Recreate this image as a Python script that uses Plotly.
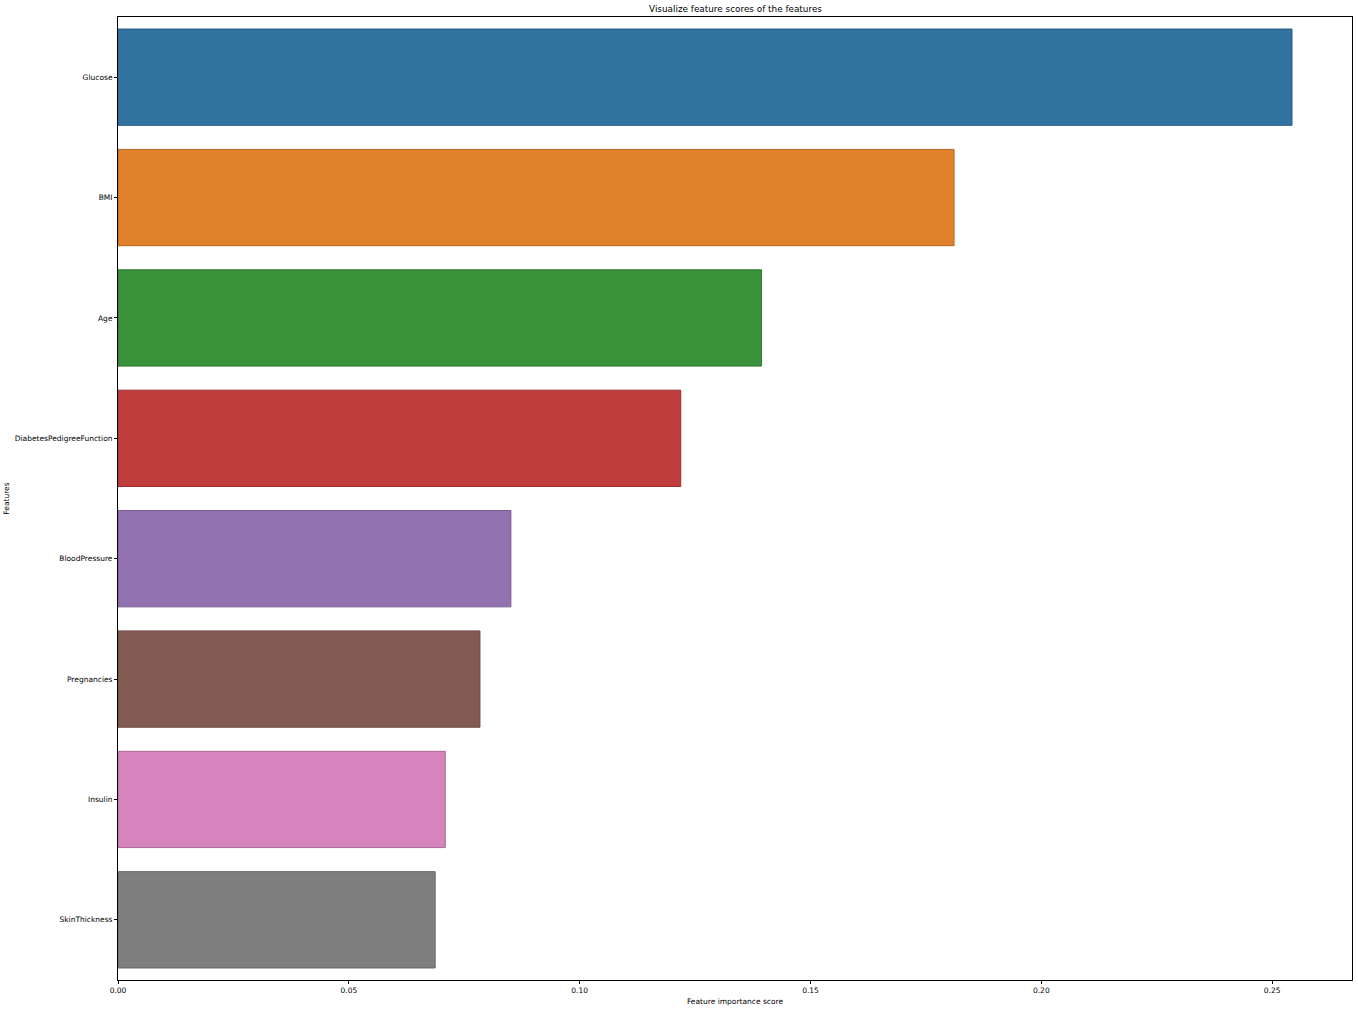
import plotly.graph_objects as go

features = ["Glucose", "BMI", "Age", "DiabetesPedigreeFunction", "BloodPressure",
            "Pregnancies", "Insulin", "SkinThickness"]
scores = [0.2543, 0.1811, 0.1394, 0.1219, 0.0851, 0.0784, 0.0709, 0.0687]
colors = ["#3274a1", "#e1812c", "#3a923a", "#c03d3e", "#9372b2", "#845b53", "#d684bd", "#7f7f7f"]
edge_colors = ["#285d81", "#b46723", "#2e742e", "#993031", "#755b8e", "#694842", "#ab6997", "#666666"]
x_ticks = [0.0, 0.05, 0.10, 0.15, 0.20, 0.25]
x_tick_text = ["0.00", "0.05", "0.10", "0.15", "0.20", "0.25"]

FONT = "DejaVu Sans"

fig = go.Figure()
fig.add_trace(go.Bar(
    x=scores, y=features, orientation="h",
    marker=dict(color=colors, line=dict(color=edge_colors, width=1)),
    width=0.8,
))

fig.update_layout(
    width=1358, height=1009,
    margin=dict(l=117, r=5, t=17, b=28),
    paper_bgcolor="white", plot_bgcolor="white",
    showlegend=False,
    title=dict(text="Visualize feature scores of the features",
               font=dict(family=FONT, size=8.85, color="black"),
               x=735.5 / 1358, xanchor="center", y=1 - 9 / 1009, yanchor="middle"),
    font=dict(family=FONT, size=7.5, color="black"),
)
fig.update_xaxes(
    range=[0, 0.2673], tickvals=x_ticks, ticktext=x_tick_text,
    showgrid=False, zeroline=False,
    showline=True, linecolor="black", linewidth=1, mirror=True,
    ticks="outside", ticklen=3, tickcolor="black",
    tickfont=dict(family=FONT, size=7.5),
    title=dict(text="Feature importance score", font=dict(family=FONT, size=7.5), standoff=4),
)
fig.update_yaxes(
    categoryorder="array", categoryarray=features, autorange="reversed",
    range=[7.5, -0.5],
    showgrid=False, zeroline=False,
    showline=True, linecolor="black", linewidth=1, mirror=True,
    ticks="outside", ticklen=3, tickcolor="black",
    tickfont=dict(family=FONT, size=7.5),
    title=dict(text="Features", font=dict(family=FONT, size=7.5), standoff=4),
)

fig.write_html("out.html", config={"displayModeBar": False},
               post_script="document.body.style.margin='0';")
